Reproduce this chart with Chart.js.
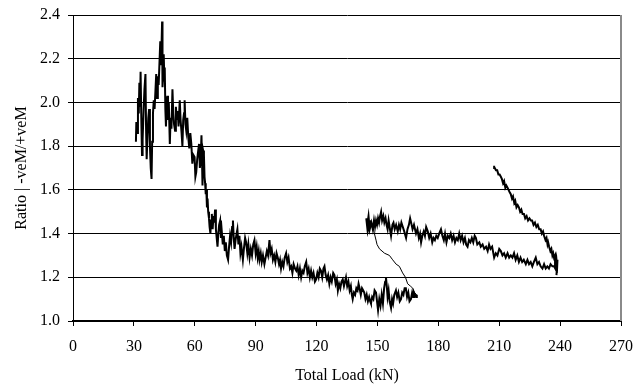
<!DOCTYPE html>
<html>
<head>
<meta charset="utf-8">
<script src="https://cdn.jsdelivr.net/npm/chart.js@4/dist/chart.umd.min.js"></script>
<style>
  html, body { margin: 0; padding: 0; background: #fff; }
  #chart { display: block; }
</style>
</head>
<body>
<canvas id="chart" width="644" height="389"></canvas>
<script>
// axis ticks
const xTicks = [0, 30, 60, 90, 120, 150, 180, 210, 240, 270];
const yTicks = [1.0, 1.2, 1.4, 1.6, 1.8, 2.0, 2.2, 2.4];

// first loading run (kN, ratio)
const loadA = [
  31.0, 31.2, 31.6, 32.0, 32.4, 32.7, 33.0, 33.3, 33.7, 34.0, 34.3, 34.8, 35.2, 35.7, 36.0, 36.3, 36.7, 37.1, 37.5, 37.9,
  38.3, 38.7, 39.0, 39.4, 39.8, 40.2, 40.6, 41.0, 41.4, 41.8, 42.2, 42.6, 43.0, 43.4, 43.9, 44.1, 44.4, 44.7, 45.0, 45.2,
  45.5, 45.8, 46.1, 46.5, 46.8, 47.2, 47.7, 48.1, 48.5, 49.0, 49.4, 49.8, 50.3, 50.7, 51.1, 51.6, 52.0, 52.6, 53.0, 53.5,
  53.9, 54.3, 54.7, 55.0, 55.4, 55.8, 56.3, 56.8, 57.3, 57.8, 58.3, 58.8, 59.3, 59.9, 60.3, 60.7, 61.2, 61.7, 62.1, 62.5,
  62.9, 63.3, 63.6, 63.8, 64.1, 64.5, 64.8, 65.1, 65.4, 65.7, 66.0, 66.3, 66.6, 67.0, 67.3, 67.7, 68.0, 68.4, 68.8, 69.2,
  69.6, 70.0, 70.4, 70.8, 71.2, 71.6, 72.0, 72.5, 72.9, 73.3, 73.8, 74.3, 74.8, 75.3, 75.8, 76.4, 76.9, 77.4, 77.9, 78.4,
  78.8, 79.2, 79.6, 80.1, 80.6, 81.0, 81.5, 82.0, 82.5, 83.0, 83.7, 84.2, 84.8, 85.3, 85.9, 86.4, 87.0, 87.6, 88.2, 88.8,
  89.4, 90.0, 90.5, 91.0, 91.5, 91.9, 92.5, 93.0, 93.6, 94.3, 94.9, 95.5, 96.1, 96.8, 97.3, 97.9, 98.5, 99.1, 99.7, 100.3,
  100.9, 101.5, 102.0, 102.5, 103.1, 103.7, 104.3, 105.0, 105.6, 106.2, 106.9, 107.5, 108.1, 108.7, 109.4, 110.0, 110.6, 111.2, 111.8, 112.4,
  113.0, 113.6, 114.2, 114.9, 115.5, 116.1, 116.7, 117.3, 117.9, 118.5, 119.2, 119.8, 120.4, 121.0, 121.6, 122.2, 122.8, 123.4, 123.9, 124.5,
  125.1, 125.7, 126.3, 126.9, 127.5, 128.2, 128.8, 129.4, 130.0, 130.5, 131.1, 131.7, 132.3, 132.9, 133.5, 134.0, 134.5, 135.1, 135.7, 136.3,
  136.9, 137.4, 137.8, 138.4, 139.0, 139.6, 140.2, 140.7, 141.2, 141.8, 142.4, 143.0, 143.5, 144.1, 144.7, 145.3, 145.9, 146.4, 146.8, 147.4,
  148.0, 148.6, 149.3, 149.8, 150.3, 150.9, 151.5, 152.1, 152.7, 153.3, 153.8, 154.2, 154.6, 155.0, 155.5, 156.0, 156.7, 157.2, 157.7, 158.3,
  159.1, 159.7, 160.3, 161.0, 161.6, 162.2, 162.8, 163.4, 164.0, 164.6, 165.2, 165.8, 166.5, 167.1, 167.6, 168.0, 168.5, 169.0, 169.4
];
const ratioA = [
  1.82, 1.91, 1.86, 2.02, 1.95, 2.09, 1.98, 2.14, 1.90, 1.76, 1.83, 1.97, 2.06, 2.13, 1.88, 1.74, 1.85, 1.93, 1.97, 1.80,
  1.70, 1.65, 1.82, 1.95, 2.01, 1.97, 2.05, 2.13, 2.02, 2.12, 2.08, 2.18, 2.28, 2.17, 2.37, 2.07, 2.12, 2.22, 2.10, 2.16,
  1.97, 1.89, 2.00, 2.03, 1.92, 2.00, 1.81, 1.93, 1.88, 2.06, 1.95, 1.90, 1.87, 1.98, 1.92, 1.96, 1.89, 2.01, 1.92, 1.86,
  1.80, 1.92, 1.95, 2.01, 1.90, 1.87, 1.93, 1.84, 1.79, 1.86, 1.81, 1.72, 1.76, 1.75, 1.66, 1.68, 1.74, 1.78, 1.81, 1.70,
  1.74, 1.85, 1.72, 1.62, 1.78, 1.76, 1.66, 1.63, 1.58, 1.60, 1.52, 1.56, 1.50, 1.47, 1.43, 1.40, 1.46, 1.49, 1.42, 1.48,
  1.45, 1.51, 1.42, 1.38, 1.34, 1.40, 1.44, 1.46, 1.38, 1.41, 1.35, 1.39, 1.32, 1.36, 1.30, 1.28, 1.34, 1.39, 1.36, 1.43,
  1.46, 1.38, 1.33, 1.37, 1.40, 1.42, 1.35, 1.39, 1.31, 1.34, 1.28, 1.33, 1.38, 1.36, 1.31, 1.35, 1.29, 1.33, 1.30, 1.35,
  1.37, 1.31, 1.34, 1.29, 1.32, 1.28, 1.31, 1.27, 1.30, 1.26, 1.29, 1.32, 1.30, 1.37, 1.31, 1.33, 1.28, 1.30, 1.27, 1.31,
  1.29, 1.26, 1.28, 1.24, 1.27, 1.25, 1.29, 1.31, 1.27, 1.29, 1.24, 1.25, 1.22, 1.26, 1.24, 1.23, 1.25, 1.21, 1.24, 1.20,
  1.23, 1.22, 1.25, 1.27, 1.22, 1.24, 1.20, 1.23, 1.20, 1.22, 1.18, 1.19, 1.22, 1.20, 1.24, 1.23, 1.20, 1.24, 1.25, 1.21,
  1.19, 1.21, 1.17, 1.20, 1.18, 1.22, 1.21, 1.17, 1.19, 1.14, 1.17, 1.15, 1.18, 1.19, 1.16, 1.18, 1.20, 1.16, 1.18, 1.14,
  1.16, 1.12, 1.10, 1.13, 1.12, 1.15, 1.14, 1.17, 1.15, 1.12, 1.15, 1.14, 1.13, 1.10, 1.12, 1.09, 1.11, 1.09, 1.08, 1.11,
  1.10, 1.14, 1.13, 1.09, 1.05, 1.10, 1.07, 1.12, 1.08, 1.15, 1.18, 1.20, 1.16, 1.11, 1.14, 1.09, 1.06, 1.10, 1.08, 1.12,
  1.14, 1.11, 1.13, 1.09, 1.10, 1.13, 1.12, 1.15, 1.15, 1.11, 1.13, 1.09, 1.10, 1.13, 1.11, 1.13, 1.12, 1.11, 1.12
];

// quick unloading back to ~148 kN (thin stretch)
const loadB = [169.4, 168.2, 167.4, 166.2, 164.9, 163.8, 162.4, 160.8, 159.2, 157.5, 155.9, 153.5, 151.0, 149.8, 149.3, 148.5, 147.8, 146.5];
const ratioB = [1.12, 1.13, 1.15, 1.16, 1.17, 1.20, 1.22, 1.25, 1.26, 1.28, 1.30, 1.31, 1.33, 1.35, 1.37, 1.40, 1.43, 1.46];

// second loading run up to ~238 kN
const loadC = [
  146.5, 145.2, 144.5, 145.0, 145.6, 146.2, 147.0, 147.7, 148.3, 148.8, 149.3, 149.8, 150.3, 150.8, 151.3, 151.8, 152.3, 152.9, 153.4, 154.0,
  154.5, 155.0, 155.5, 156.0, 156.7, 157.4, 157.9, 158.5, 159.2, 160.0, 160.6, 161.2, 161.8, 162.5, 163.2, 164.1, 164.8, 165.5, 166.1, 166.6,
  167.3, 168.0, 169.0, 169.7, 170.4, 171.0, 171.5, 172.1, 172.8, 173.4, 174.0, 174.8, 175.5, 176.2, 177.0, 177.6, 178.3, 179.0, 179.7, 180.4,
  181.3, 182.0, 182.7, 183.3, 184.0, 184.7, 185.4, 186.1, 186.8, 187.5, 188.2, 188.9, 189.6, 190.3, 191.0, 191.7, 192.4, 193.1, 193.7, 194.4,
  195.1, 195.8, 196.5, 197.2, 197.9, 198.5, 199.2, 200.2, 200.9, 201.8, 202.6, 203.5, 204.3, 205.0, 205.7, 206.5, 207.5, 208.3, 209.1, 210.0,
  210.8, 211.6, 212.4, 213.2, 214.1, 214.9, 215.7, 216.5, 217.3, 218.1, 218.9, 219.7, 220.5, 221.3, 222.1, 223.1, 223.9, 224.7, 225.5, 226.3,
  227.1, 228.0, 228.8, 229.6, 230.4, 231.3, 232.1, 232.9, 233.7, 234.5, 235.3, 236.2, 237.0, 237.6, 238.0, 238.4, 238.7, 238.2
];
const ratioC = [
  1.46, 1.41, 1.47, 1.44, 1.48, 1.42, 1.45, 1.42, 1.46, 1.43, 1.46, 1.44, 1.47, 1.45, 1.48, 1.50, 1.46, 1.48, 1.45, 1.47,
  1.44, 1.42, 1.46, 1.43, 1.39, 1.44, 1.45, 1.42, 1.44, 1.41, 1.44, 1.42, 1.45, 1.43, 1.41, 1.38, 1.42, 1.44, 1.47, 1.45,
  1.42, 1.44, 1.40, 1.42, 1.38, 1.40, 1.36, 1.39, 1.41, 1.39, 1.43, 1.41, 1.38, 1.40, 1.36, 1.38, 1.37, 1.39, 1.38, 1.40,
  1.42, 1.39, 1.37, 1.40, 1.36, 1.39, 1.38, 1.40, 1.37, 1.39, 1.36, 1.38, 1.37, 1.40, 1.37, 1.39, 1.36, 1.38, 1.35, 1.34,
  1.37, 1.36, 1.38, 1.36, 1.39, 1.38, 1.35, 1.36, 1.34, 1.35, 1.33, 1.34, 1.32, 1.35, 1.33, 1.34, 1.29, 1.31, 1.30, 1.33,
  1.32, 1.30, 1.31, 1.29, 1.31, 1.29, 1.30, 1.29, 1.31, 1.28, 1.30, 1.27, 1.29, 1.27, 1.28, 1.26, 1.28, 1.26, 1.27, 1.25,
  1.27, 1.29, 1.26, 1.27, 1.25, 1.24, 1.26, 1.24, 1.25, 1.24, 1.26, 1.25, 1.25, 1.24, 1.26, 1.22, 1.28, 1.21
];

// unloading from ~238 kN back to ~208 kN
const loadD = [
  238.5, 238.2, 237.9, 237.5, 237.0, 236.6, 236.2, 235.7, 235.2, 234.6, 234.1, 233.8, 233.3, 232.8, 232.1, 231.6, 231.0, 230.4, 229.7, 229.0,
  228.3, 227.6, 226.9, 226.2, 225.6, 224.9, 224.2, 223.5, 222.8, 222.2, 221.5, 220.9, 220.3, 219.7, 219.1, 218.5, 217.9, 217.4, 216.8, 216.3,
  215.7, 215.1, 214.6, 214.1, 213.5, 213.0, 212.4, 211.9, 211.3, 210.8, 210.2, 209.6, 209.0, 208.4, 207.8, 207.5
];
const ratioD = [
  1.25, 1.28, 1.26, 1.30, 1.29, 1.31, 1.30, 1.33, 1.32, 1.34, 1.36, 1.35, 1.38, 1.37, 1.39, 1.41, 1.40, 1.42, 1.42, 1.44,
  1.43, 1.45, 1.44, 1.46, 1.46, 1.47, 1.46, 1.48, 1.47, 1.49, 1.49, 1.51, 1.50, 1.52, 1.53, 1.52, 1.55, 1.54, 1.57, 1.56,
  1.58, 1.59, 1.60, 1.61, 1.62, 1.61, 1.64, 1.63, 1.65, 1.66, 1.67, 1.67, 1.69, 1.69, 1.70, 1.71
];

const serif = "'Liberation Serif', 'Times New Roman', serif";

function pairs(xs, ys) {
  return xs.map((x, i) => ({ x: x, y: ys[i] }));
}

const pointsA = pairs(loadA, ratioA);
const pointsB = pairs(loadB, ratioB);
const pointsCD = [...pairs(loadC, ratioC), ...pairs(loadD, ratioD)];

// grey right-hand frame line of the plot area
const frameRight = {
  id: "frameRight",
  afterDraw(chart) {
    const a = chart.chartArea;
    const c = chart.ctx;
    c.save();
    c.strokeStyle = "#8a8a8a";
    c.lineWidth = 2;
    c.beginPath();
    c.moveTo(a.right, a.top);
    c.lineTo(a.right, a.bottom);
    c.stroke();
    c.restore();
  }
};

function lineSet(data, width) {
  return {
    data: data,
    showLine: true,
    borderColor: "#000",
    borderWidth: width,
    borderJoinStyle: "miter",
    pointRadius: 0,
    tension: 0
  };
}

new Chart(document.getElementById("chart"), {
  type: "scatter",
  data: {
    datasets: [
      lineSet(pointsA, 2),
      lineSet(pointsB, 1),
      lineSet(pointsCD, 2)
    ]
  },
  options: {
    responsive: false,
    animation: false,
    layout: { padding: { top: 15, right: 22, bottom: 0, left: 0 } },
    plugins: {
      legend: { display: false },
      tooltip: { enabled: false }
    },
    scales: {
      x: {
        type: "linear",
        min: 0,
        max: 270,
        afterBuildTicks: s => { s.ticks = xTicks.map(v => ({ value: v })); },
        afterFit: s => { s.height = 68; },
        ticks: { color: "#000", font: { family: serif, size: 16 }, padding: 11, maxRotation: 0 },
        grid: { drawOnChartArea: false, color: "#000", tickLength: 5 },
        border: { color: "#000", width: 2 },
        title: {
          display: true,
          text: "Total Load (kN)",
          color: "#000",
          font: { family: serif, size: 16 },
          padding: { top: 0, bottom: 4 }
        }
      },
      y: {
        min: 1.0,
        max: 2.4,
        afterBuildTicks: s => { s.ticks = yTicks.map(v => ({ value: v })); },
        afterFit: s => { s.width = 73; s.paddingTop = 0; s.paddingBottom = 0; },
        ticks: { color: "#000", font: { family: serif, size: 16 }, padding: 8, callback: v => v.toFixed(1) },
        grid: { color: "#000", lineWidth: 1, tickLength: 5 },
        border: { color: "#000", width: 1 },
        title: {
          display: true,
          text: "Ratio | -veM/+veM",
          color: "#000",
          font: { family: serif, size: 16 },
          padding: { top: 12, bottom: 0 }
        }
      }
    }
  },
  plugins: [frameRight]
});
</script>
</body>
</html>
